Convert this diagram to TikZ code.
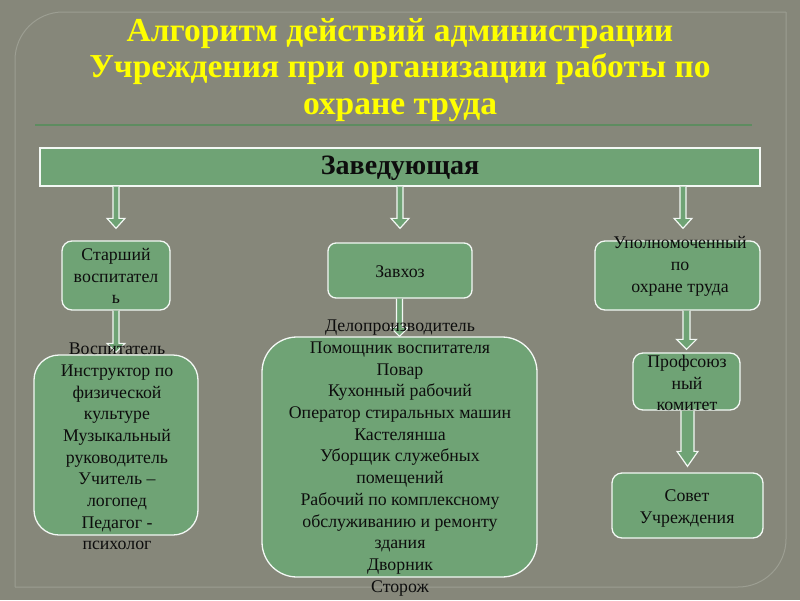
\documentclass[tikz,border=0pt]{standalone}
\usepackage{fontspec}
\setmainfont{Liberation Serif}
\usepackage{tikz}
\usetikzlibrary{calc}

\definecolor{bgcol}{HTML}{86877A}
\definecolor{boxgreen}{HTML}{6FA375}
\definecolor{framecol}{HTML}{9C9E92}
\definecolor{linegreen}{HTML}{5E8C60}
\definecolor{titleyellow}{HTML}{FFFF00}

\tikzset{
  box/.style = {draw = white!92!boxgreen, line width = 1.3pt, fill = boxgreen, rounded corners = 10pt, inner sep = 0pt},
  txt/.style = {align = center, font = \fontsize{17.8}{21.7}\selectfont, text = black!95, inner sep = 0pt},
  arr/.style = {draw = white!92!boxgreen, line width = 1.2pt, fill = boxgreen, line join = miter},
}

% block arrow: tip, start (only its y is used), half shaft, half head, head length
\newcommand{\blockarr}[5]{%
  \draw[arr] let \p1 = (#1), \p2 = (#2) in
    (\x1-#3pt,\y2) -- (\x1-#3pt,\y1+#5pt) -- (\x1-#4pt,\y1+#5pt) -- (\x1,\y1)
    -- (\x1+#4pt,\y1+#5pt) -- (\x1+#3pt,\y1+#5pt) -- (\x1+#3pt,\y2);}

\begin{document}
\begin{tikzpicture}[x = 1pt, y = -1pt]
\useasboundingbox (0,0) rectangle (800,600);
\fill [bgcol] (0,0) rectangle (800,600);

% frame and title
\draw [framecol, line width = 1pt, rounded corners = 48pt] (15,587) -- (15,12) -- (786,12);
\draw [framecol, line width = 1pt, rounded corners = 48pt] (786,12) -- (786,587) -- (15,587);
\node [align = center, font = \fontsize{33.5}{36.5}\selectfont\bfseries, text = titleyellow] (title) at (400,70)
  {Алгоритм действий администрации\\Учреждения при организации работы по\\охране труда};
\draw [linegreen, line width = 2pt] (35,125) -- (752,125);

% boxes
\node [box, rounded corners = 0pt, minimum width = 720, minimum height = 38] (zav) at (400,167) {};
\node [box, minimum width = 108, minimum height = 69] (st) at (116,275.5) {};
\node [box, rounded corners = 8pt, minimum width = 144, minimum height = 55] (zh) at (400,270.5) {};
\node [box, minimum width = 165, minimum height = 69] (up) at (677.5,275.5) {};
\node [box, rounded corners = 25pt, minimum width = 164, minimum height = 180] (vosp) at (116,445) {};
\node [box, rounded corners = 35pt, minimum width = 275, minimum height = 240] (staff) at (399.5,457) {};
\node [box, minimum width = 107, minimum height = 57] (prof) at (686.5,381.5) {};
\node [box, minimum width = 151, minimum height = 65] (sov) at (687.5,505.5) {};

% arrows
\blockarr{$(st.north)+(0,-12)$}{zav.south}{3}{9}{10}
\blockarr{$(zh.north)+(0,-14)$}{zav.south}{3}{9}{10}
\blockarr{$(up.north)+(5.5,-12)$}{zav.south}{3}{9}{10}
\blockarr{$(vosp.north)+(0,-2)$}{st.south}{3}{9}{9}
\blockarr{staff.north}{zh.south}{3}{9}{9}
\blockarr{$(prof.north)+(0,-3)$}{up.south}{3.5}{10}{10}
\blockarr{$(sov.north)+(0,-6)$}{prof.south}{6.5}{10.5}{15}

% texts
\node [txt, font = \fontsize{28}{32}\selectfont\bfseries] (zavt) at (400,168) {Заведующая};
\node [txt] (stt) at (116,276) {Старший\\воспитател\\ь};
\node [txt] (zht) at (400,272) {Завхоз};
\node [txt] (upt) at (680,266.5) {Уполномоченный\\по\\охране труда};
\node [txt] (vospt) at (117,446.5) {Воспитатель\\Инструктор по\\физической\\культуре\\Музыкальный\\руководитель\\Учитель –\\логопед\\Педагог -\\психолог};
\node [txt] (stafft) at (400,458) {Делопроизводитель\\Помощник воспитателя\\Повар\\Кухонный рабочий\\Оператор стиральных машин\\Кастелянша\\Уборщик служебных\\помещений\\Рабочий по комплексному\\обслуживанию и ремонту\\здания\\Дворник\\Сторож};
\node [txt] (proft) at (687,383) {Профсоюз\\ный\\комитет};
\node [txt] (sovt) at (687,508.5) {Совет\\Учреждения};
\end{tikzpicture}
\end{document}
